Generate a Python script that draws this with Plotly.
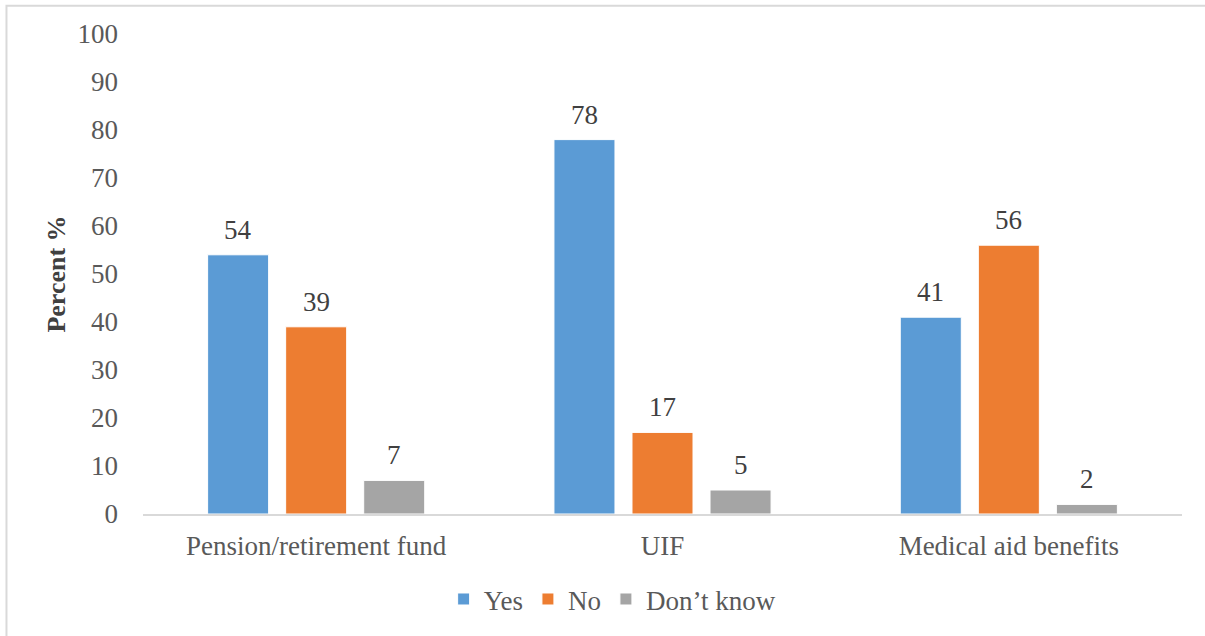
import plotly.graph_objects as go

# Survey responses: share of employees with each benefit
categories = ["Pension/retirement fund", "UIF", "Medical aid benefits"]
series_names = ["Yes", "No", "Don’t know"]
yes_vals = [54, 78, 41]
no_vals = [39, 17, 56]
dont_know_vals = [7, 5, 2]
y_ticks = list(range(0, 101, 10))

colors = ["#5B9BD5", "#ED7D31", "#A5A5A5"]
series_vals = [yes_vals, no_vals, dont_know_vals]

FONT = "Liberation Serif, serif"
FS = 27

fig = go.Figure()
for name, vals, col in zip(series_names, series_vals, colors):
    fig.add_trace(go.Bar(
        name=name, x=categories, y=vals,
        marker=dict(color=col, line=dict(color="white", width=1)),
    ))

# Value labels above each bar (slot width matches the bar grouping below)
plot_w = 1205 - 143 - 23
cat_w = plot_w / len(categories)
bargap = 0.324
slot = cat_w * (1 - bargap) / len(series_names)
for si, vals in enumerate(series_vals):
    for ci, v in enumerate(vals):
        fig.add_annotation(
            x=categories[ci], y=v, xref="x", yref="y",
            text=str(v), showarrow=False,
            xshift=(si - 1) * slot, yshift=8, yanchor="bottom",
            font=dict(family=FONT, size=FS, color="#404040"),
        )

# Light frame around the chart area
fig.add_shape(type="rect", xref="paper", yref="paper",
              x0=-0.1314, y0=-0.26, x1=1.03, y1=1.059,
              line=dict(color="#D9D9D9", width=2), layer="below")

fig.update_layout(
    width=1205, height=636,
    margin=dict(l=143, r=23, t=34, b=119),
    paper_bgcolor="white", plot_bgcolor="white",
    barmode="group", bargap=bargap, bargroupgap=0.218,
    font=dict(family=FONT, size=FS, color="#595959"),
    showlegend=True,
    legend=dict(orientation="h", x=0.452, xanchor="center",
                y=-0.178, yanchor="middle",
                font=dict(family=FONT, size=FS, color="#595959"),
                itemwidth=30, traceorder="normal"),
    xaxis=dict(showline=True, linecolor="#D9D9D9", linewidth=2,
               ticks="", showgrid=False,
               tickfont=dict(family=FONT, size=FS, color="#595959"),
               ticklabelstandoff=7),
    yaxis=dict(range=[0, 100], tickvals=y_ticks, showgrid=False,
               zeroline=False, showline=False, ticks="",
               tickfont=dict(family=FONT, size=FS, color="#595959"),
               ticklabelstandoff=24,
               title=dict(text="<b>Percent %</b>",
                          font=dict(family=FONT, size=26, color="#404040"),
                          standoff=4)),
)

fig.write_html("out.html")
